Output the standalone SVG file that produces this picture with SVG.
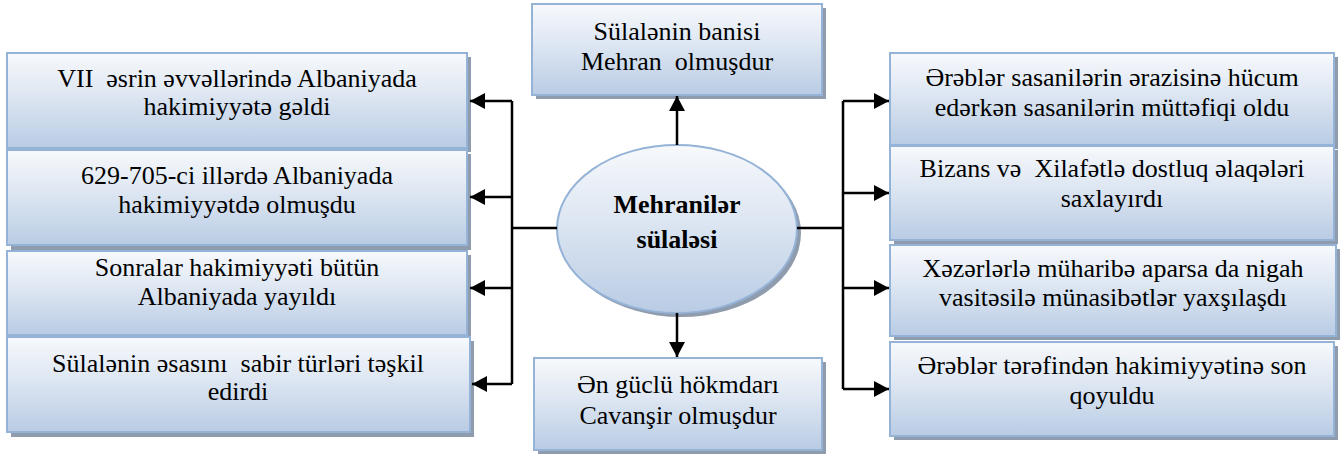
<svg xmlns="http://www.w3.org/2000/svg" width="1341" height="458" viewBox="0 0 1341 458">
<defs>
<linearGradient id="g" x1="0" y1="0" x2="0" y2="1">
<stop offset="0" stop-color="#f7f9fc"/>
<stop offset="0.45" stop-color="#dde6f2"/>
<stop offset="1" stop-color="#b9cce4"/>
</linearGradient>
<marker id="ah" markerUnits="userSpaceOnUse" markerWidth="16" markerHeight="16" refX="15" refY="8" orient="auto">
<path d="M0,0 L15,8 L0,16 z" fill="#000"/>
</marker>
</defs>

<g id="left1">
<rect fill="#8f9cae" x="11" y="57" width="460" height="95"/>
<rect fill="url(#g)" stroke="#95b3d7" stroke-width="2" x="7" y="53" width="460" height="95"/>
<text x="237" y="87" font-family="Liberation Serif" font-size="26" text-anchor="middle" xml:space="preserve">VII  əsrin əvvəllərində Albaniyada</text>
<text x="237" y="115" font-family="Liberation Serif" font-size="26" text-anchor="middle">hakimiyyətə gəldi</text>
</g>
<g id="left2">
<rect fill="#8f9cae" x="11" y="154" width="460" height="96"/>
<rect fill="url(#g)" stroke="#95b3d7" stroke-width="2" x="7" y="150" width="460" height="95"/>
<text x="237" y="184" font-family="Liberation Serif" font-size="26" text-anchor="middle">629-705-ci illərdə Albaniyada</text>
<text x="237" y="213" font-family="Liberation Serif" font-size="26" text-anchor="middle">hakimiyyətdə olmuşdu</text>
</g>
<g id="left3">
<rect fill="#8f9cae" x="11" y="255" width="460" height="84"/>
<rect fill="url(#g)" stroke="#95b3d7" stroke-width="2" x="7" y="251" width="460" height="84"/>
<text x="237" y="276" font-family="Liberation Serif" font-size="26" text-anchor="middle">Sonralar hakimiyyəti bütün</text>
<text x="237" y="305" font-family="Liberation Serif" font-size="26" text-anchor="middle">Albaniyada yayıldı</text>
</g>
<g id="left4">
<rect fill="#8f9cae" x="11" y="341" width="463" height="96"/>
<rect fill="url(#g)" stroke="#95b3d7" stroke-width="2" x="7" y="337" width="463" height="95"/>
<text x="238" y="372" font-family="Liberation Serif" font-size="26" text-anchor="middle" xml:space="preserve">Sülalənin əsasını  sabir türləri təşkil</text>
<text x="238" y="400" font-family="Liberation Serif" font-size="26" text-anchor="middle">edirdi</text>
</g>

<g id="top">
<rect fill="#8f9cae" x="536" y="8" width="290" height="91"/>
<rect fill="url(#g)" stroke="#95b3d7" stroke-width="2" x="532" y="4" width="290" height="91"/>
<text x="677" y="40" font-family="Liberation Serif" font-size="26" text-anchor="middle">Sülalənin banisi</text>
<text x="677" y="70" font-family="Liberation Serif" font-size="26" text-anchor="middle" xml:space="preserve">Mehran  olmuşdur</text>
</g>

<g id="center">
<ellipse fill="#8f9cae" cx="681" cy="233" rx="120" ry="84"/>
<ellipse fill="url(#g)" stroke="#95b3d7" stroke-width="2" cx="677" cy="229" rx="120" ry="84"/>
<text x="677" y="213" font-family="Liberation Serif" font-size="26" text-anchor="middle" font-weight="bold">Mehranilər</text>
<text x="677" y="248" font-family="Liberation Serif" font-size="26" text-anchor="middle" font-weight="bold">sülaləsi</text>
</g>

<g id="bottom">
<rect fill="#8f9cae" x="538" y="362" width="288" height="92"/>
<rect fill="url(#g)" stroke="#95b3d7" stroke-width="2" x="534" y="358" width="288" height="92"/>
<text x="678" y="393" font-family="Liberation Serif" font-size="26" text-anchor="middle">Ən güclü hökmdarı</text>
<text x="678" y="424" font-family="Liberation Serif" font-size="26" text-anchor="middle">Cavanşir olmuşdur</text>
</g>

<g id="right1">
<rect fill="#8f9cae" x="894" y="57" width="444" height="92"/>
<rect fill="url(#g)" stroke="#95b3d7" stroke-width="2" x="890" y="53" width="444" height="92"/>
<text x="1112" y="86" font-family="Liberation Serif" font-size="26" text-anchor="middle">Ərəblər sasanilərin ərazisinə hücum</text>
<text x="1112" y="116" font-family="Liberation Serif" font-size="26" text-anchor="middle">edərkən sasanilərin müttəfiqi oldu</text>
</g>
<g id="right2">
<rect fill="#8f9cae" x="894" y="150" width="444" height="94"/>
<rect fill="url(#g)" stroke="#95b3d7" stroke-width="2" x="890" y="146" width="444" height="94"/>
<text x="1112" y="177" font-family="Liberation Serif" font-size="26" text-anchor="middle" xml:space="preserve">Bizans və  Xilafətlə dostluq əlaqələri</text>
<text x="1112" y="207" font-family="Liberation Serif" font-size="26" text-anchor="middle">saxlayırdı</text>
</g>
<g id="right3">
<rect fill="#8f9cae" x="894" y="249" width="446" height="91"/>
<rect fill="url(#g)" stroke="#95b3d7" stroke-width="2" x="890" y="245" width="446" height="91"/>
<text x="1113" y="277" font-family="Liberation Serif" font-size="26" text-anchor="middle">Xəzərlərlə müharibə aparsa da nigah</text>
<text x="1113" y="306" font-family="Liberation Serif" font-size="26" text-anchor="middle">vasitəsilə münasibətlər yaxşılaşdı</text>
</g>
<g id="right4">
<rect fill="#8f9cae" x="894" y="346" width="444" height="94"/>
<rect fill="url(#g)" stroke="#95b3d7" stroke-width="2" x="890" y="342" width="444" height="94"/>
<text x="1112" y="374" font-family="Liberation Serif" font-size="26" text-anchor="middle">Ərəblər tərəfindən hakimiyyətinə son</text>
<text x="1112" y="404" font-family="Liberation Serif" font-size="26" text-anchor="middle">qoyuldu</text>
</g>

<g id="connectors" fill="none" stroke="#000" stroke-width="2.5">
<path d="M512,101 V384 M512,228 H557"/>
<line x1="512" y1="101" x2="470" y2="101" marker-end="url(#ah)"/>
<line x1="512" y1="197" x2="470" y2="197" marker-end="url(#ah)"/>
<line x1="512" y1="288" x2="470" y2="288" marker-end="url(#ah)"/>
<line x1="512" y1="384" x2="472" y2="384" marker-end="url(#ah)"/>
<path d="M843,101 V389 M797,228 H843"/>
<line x1="843" y1="101" x2="889" y2="101" marker-end="url(#ah)"/>
<line x1="843" y1="193" x2="889" y2="193" marker-end="url(#ah)"/>
<line x1="843" y1="288" x2="889" y2="288" marker-end="url(#ah)"/>
<line x1="843" y1="389" x2="889" y2="389" marker-end="url(#ah)"/>
<line x1="677" y1="145" x2="677" y2="96" marker-end="url(#ah)"/>
<line x1="677" y1="313" x2="677" y2="357" marker-end="url(#ah)"/>
</g>
</svg>
